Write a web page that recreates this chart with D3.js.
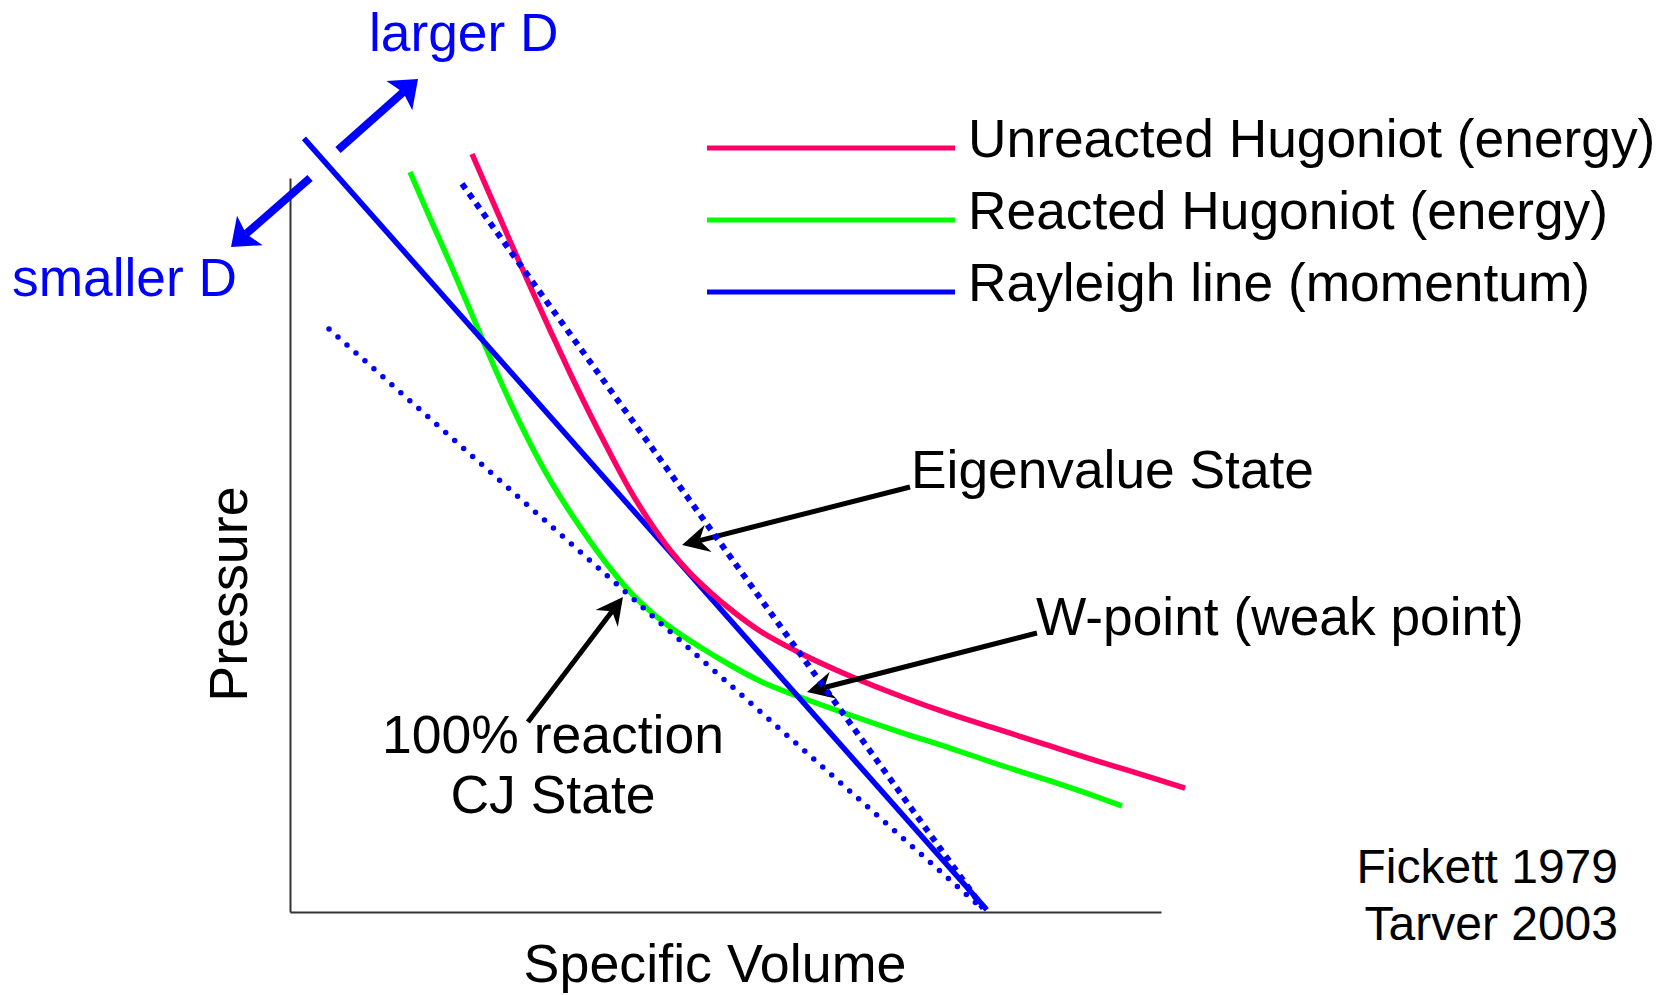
<!DOCTYPE html>
<html><head><meta charset="utf-8">
<script src="https://cdn.jsdelivr.net/npm/d3@7"></script>
<style>
html,body{margin:0;padding:0;background:#fff}
svg{display:block}
text{font-family:"Liberation Sans",Arial,Helvetica,sans-serif}
</style>
</head><body>
<svg id="chart" width="1659" height="995"></svg>
<script>
// ---- data (specific volume v, pressure p; arbitrary units) ----
const unreactedV = [20.90,22.96,25.26,27.55,29.85,32.15,34.44,36.74,39.04,41.33,43.63,45.92,48.22,50.52,53.96,58.55,64.29,70.03,75.77,81.52,87.26,93.00,98.74,102.76];
const unreactedP = [103.27,97.68,91.42,85.29,79.29,73.43,67.85,62.53,57.49,53.13,49.32,46.19,43.60,41.28,38.28,35.29,32.15,29.43,26.98,24.80,22.62,20.44,18.39,16.89];

const reactedV = [13.78,16.07,18.37,20.67,22.96,25.26,27.55,29.85,32.15,34.44,36.74,39.04,41.33,43.63,47.07,50.52,53.96,58.55,64.29,70.03,75.77,81.52,87.26,93.00,95.52];
const reactedP = [100.82,94.55,88.42,82.02,75.61,69.48,63.90,58.86,54.50,50.54,46.87,43.60,41.01,38.83,36.10,33.65,31.47,29.29,26.84,24.52,22.34,20.03,17.85,15.53,14.44];

const rayleighV = [1.6, 80.0];
const rayleighP = [105.4, 0.3];
const rayleighLargerV = [19.75, 79.6];
const rayleighLargerP = [99.2, 0.5];
const rayleighSmallerV = [4.48, 79.45];
const rayleighSmallerP = [79.43, 0.5];

const legendLabels = ["Unreacted Hugoniot (energy)", "Reacted Hugoniot (energy)", "Rayleigh line (momentum)"];
const cjLabelLines = ["100% reaction", "CJ State"];

// annotation arrows: [startV, startP, tipV, tipP]
const eigenArrow = [71.18, 57.90, 45.01, 50.00];
const wPointArrow = [85.76, 38.01, 59.36, 29.97];
const cjArrow = [27.32, 25.89, 38.23, 42.92];
const largerDArrow = [5.51, 103.81, 14.70, 113.49];
const smallerDArrow = [2.30, 100.00, -6.77, 90.60];

// ---- styles ----
const RED = "#ff0066", GREEN = "#00ff00", BLUE = "#0000ff";
const FONT = 53.3;

const svg = d3.select("#chart");
const x = d3.scaleLinear().domain([0, 100]).range([290, 1161]);
const y = d3.scaleLinear().domain([0, 100]).range([912, 178]);

// axes (no ticks)
const gx = svg.append("g").attr("transform", `translate(0,${y(0)})`)
  .call(d3.axisBottom(x).tickValues([]).tickSizeOuter(0));
const gy = svg.append("g").attr("transform", `translate(${x(0)},0)`)
  .call(d3.axisLeft(y).tickValues([]).tickSizeOuter(0));
[gx, gy].forEach(g => g.select(".domain").attr("stroke", "#333").attr("stroke-width", 2));

const curve = d3.line().x(d => x(d[0])).y(d => y(d[1])).curve(d3.curveMonotoneX);
const straight = d3.line().x(d => x(d[0])).y(d => y(d[1]));

// reacted (green)
svg.append("path").attr("d", curve(d3.zip(reactedV, reactedP)))
  .attr("fill", "none").attr("stroke", GREEN).attr("stroke-width", 5.5);
// rayleigh solid
svg.append("path").attr("d", straight(d3.zip(rayleighV, rayleighP)))
  .attr("fill", "none").attr("stroke", BLUE).attr("stroke-width", 5.5);
// unreacted (red)
svg.append("path").attr("d", curve(d3.zip(unreactedV, unreactedP)))
  .attr("fill", "none").attr("stroke", RED).attr("stroke-width", 5.5);

// arrows helper
function arrow(a, color, width, L, Wd, N) {
  const sx = x(a[0]), sy = y(a[1]), tx = x(a[2]), ty = y(a[3]);
  const ang = Math.atan2(ty - sy, tx - sx);
  const ex = tx - Math.cos(ang) * N, ey = ty - Math.sin(ang) * N;
  svg.append("line").attr("x1", sx).attr("y1", sy).attr("x2", ex).attr("y2", ey)
    .attr("stroke", color).attr("stroke-width", width);
  svg.append("path")
    .attr("d", `M0,0L${-L},${-Wd}L${-N},0L${-L},${Wd}Z`)
    .attr("transform", `translate(${tx},${ty}) rotate(${ang * 180 / Math.PI})`)
    .attr("fill", color);
}
arrow(eigenArrow, "#000", 5, 27, 14, 18);
arrow(wPointArrow, "#000", 5, 27, 14, 18);
arrow(cjArrow, "#000", 5, 27, 14, 18);
arrow(largerDArrow, BLUE, 8, 25, 19.5, 20);
arrow(smallerDArrow, BLUE, 8, 25, 19.5, 20);

// dotted rayleigh lines
svg.append("path").attr("d", straight(d3.zip(rayleighLargerV, rayleighLargerP)))
  .attr("fill", "none").attr("stroke", BLUE).attr("stroke-width", 6)
  .attr("stroke-dasharray", "6,6");
svg.append("path").attr("d", straight(d3.zip(rayleighSmallerV, rayleighSmallerP)))
  .attr("fill", "none").attr("stroke", BLUE).attr("stroke-width", 5.5)
  .attr("stroke-linecap", "round").attr("stroke-dasharray", "0,12");

// legend
const legendColors = [RED, GREEN, BLUE];
legendLabels.forEach((lab, i) => {
  const ly = 148 + i * 72;
  svg.append("line").attr("x1", 707).attr("x2", 955).attr("y1", ly).attr("y2", ly)
    .attr("stroke", legendColors[i]).attr("stroke-width", 5);
  svg.append("text").attr("x", 968).attr("y", ly + 8.5).attr("font-size", FONT)
    .attr("fill", "#000").text(lab);
});

// texts
function txt(s, tx, ty, opts = {}) {
  const t = svg.append("text").attr("x", tx).attr("y", ty)
    .attr("font-size", opts.size || FONT).attr("fill", opts.color || "#000")
    .attr("text-anchor", opts.anchor || "start").text(s);
  if (opts.transform) t.attr("transform", opts.transform);
  return t;
}
txt("larger D", 369, 51, {color: BLUE});
txt("smaller D", 12, 296, {color: BLUE});
txt("Eigenvalue State", 911, 488);
txt("W-point (weak point)", 1036, 635);

// two-line CJ label
cjLabelLines.forEach((s, i) => {
  txt(s, 553, 752.5 + i * 60.5, {anchor: "middle", size: 53.5});
});

txt("Specific Volume", 715, 982, {anchor: "middle", size: 53.8});
txt("Pressure", 0, 0, {anchor: "middle", size: 53.8, transform: "translate(247,594) rotate(-90)"});
txt("Fickett 1979", 1618, 883, {anchor: "end", size: 48});
txt("Tarver 2003", 1618, 940, {anchor: "end", size: 48});
</script>
</body></html>
